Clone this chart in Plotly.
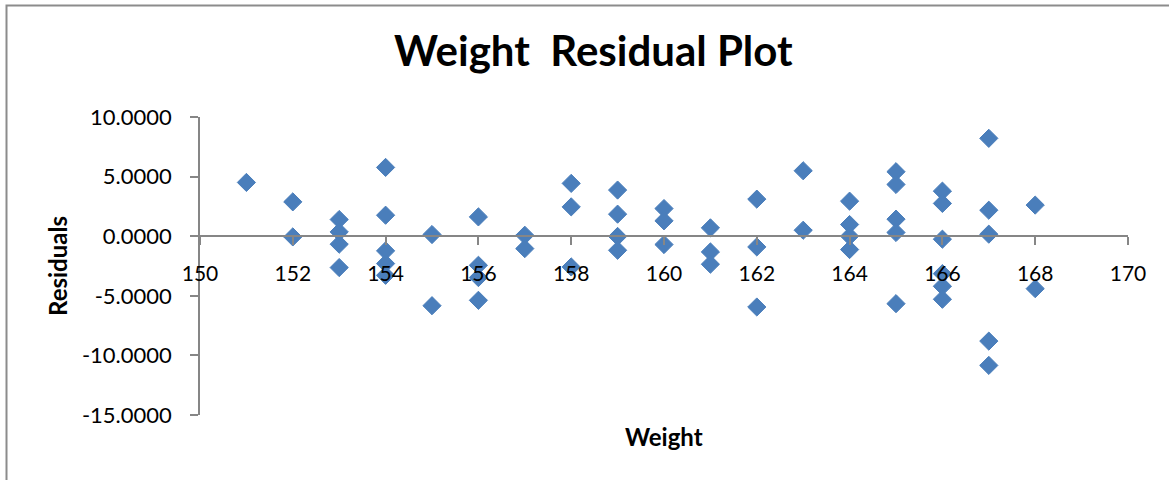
import plotly.graph_objects as go

weight = [151,
          152, 152,
          153, 153, 153, 153,
          154, 154, 154, 154, 154,
          155, 155,
          156, 156, 156, 156,
          157, 157,
          158, 158, 158,
          159, 159, 159, 159,
          160, 160, 160,
          161, 161, 161,
          162, 162, 162,
          163, 163,
          164, 164, 164, 164,
          165, 165, 165, 165, 165,
          166, 166, 166, 166, 166, 166,
          167, 167, 167, 167, 167,
          168, 168]
residuals = [4.51,
             2.88, -0.06,
             1.40, 0.36, -0.67, -2.63,
             5.77, 1.76, -1.23, -2.30, -3.28,
             0.14, -5.83,
             1.62, -2.44, -3.47, -5.38,
             0.08, -1.04,
             4.43, 2.46, -2.58,
             3.87, 1.85, -0.02, -1.18,
             2.32, 1.29, -0.70,
             0.70, -1.32, -2.35,
             3.11, -0.90, -5.94,
             5.49, 0.50,
             2.94, 0.98, 0.00, -1.12,
             5.41, 4.34, 1.43, 0.31, -5.66,
             3.78, 2.75, -0.25, -3.14, -4.20, -5.29,
             8.21, 2.18, 0.17, -8.80, -10.84,
             2.61, -4.40]

x_ticks = list(range(150, 171, 2))
y_ticks = [10, 5, 0, -5, -10, -15]
y_tick_labels = ["10.0000", "5.0000", "0.0000", "-5.0000", "-10.0000", "-15.0000"]

FONT = "Lato"
AXIS = "#868686"

L, T, PW, PH = 200, 117, 928, 298
W, H = 1169, 480

def px(xp):
    return (xp - L) / PW

def py(yp):
    return (T + PH - yp) / PH

fig = go.Figure(go.Scatter(
    x=weight, y=residuals, mode="markers",
    marker=dict(symbol="diamond", size=14, color="#4A7EBB",
                line=dict(color="#4A7EBB", width=1)),
    showlegend=False))

fig.update_layout(
    width=W, height=H,
    margin=dict(l=L, r=W - L - PW, t=T, b=H - T - PH),
    paper_bgcolor="white", plot_bgcolor="white",
    font=dict(family=FONT, color="black"),
    xaxis=dict(range=[150, 170], tickvals=x_ticks, showgrid=False, zeroline=False,
               showline=True, linecolor=AXIS, linewidth=1.5,
               ticks="outside", ticklen=8, tickcolor=AXIS, tickwidth=1.5,
               anchor="free", position=0.6, ticklabelstandoff=11,
               tickfont=dict(size=21, family=FONT, color="black")),
    yaxis=dict(range=[-15, 10], tickvals=y_ticks, ticktext=y_tick_labels,
               showgrid=False, zeroline=False,
               showline=True, linecolor=AXIS, linewidth=1.5,
               ticks="outside", ticklen=8, tickcolor=AXIS, tickwidth=1.5,
               ticklabelstandoff=14,
               tickfont=dict(size=22, family=FONT, color="black")),
    shapes=[dict(type="rect", xref="paper", yref="paper",
                 x0=px(6.5), x1=1.2, y0=-0.4, y1=py(5.5),
                 line=dict(color="#8C8C8C", width=2), fillcolor="rgba(0,0,0,0)",
                 layer="below")],
    annotations=[
        dict(text="<b>Weight  Residual Plot</b>", xref="paper", yref="paper",
             x=px(593), y=py(50), xanchor="center", yanchor="middle",
             showarrow=False, font=dict(size=42, family=FONT, color="black")),
        dict(text="<b>Weight</b>", xref="paper", yref="paper",
             x=0.5, y=py(436), xanchor="center", yanchor="middle",
             showarrow=False, font=dict(size=24, family=FONT, color="black")),
        dict(text="<b>Residuals</b>", xref="paper", yref="paper",
             x=px(57), y=0.5, xanchor="center", yanchor="middle",
             textangle=-90, showarrow=False,
             font=dict(size=24, family=FONT, color="black")),
    ],
)

fig.write_html("out.html",
               config={"displayModeBar": False},
               post_script="document.body.style.margin='0';document.body.style.overflow='hidden';")
